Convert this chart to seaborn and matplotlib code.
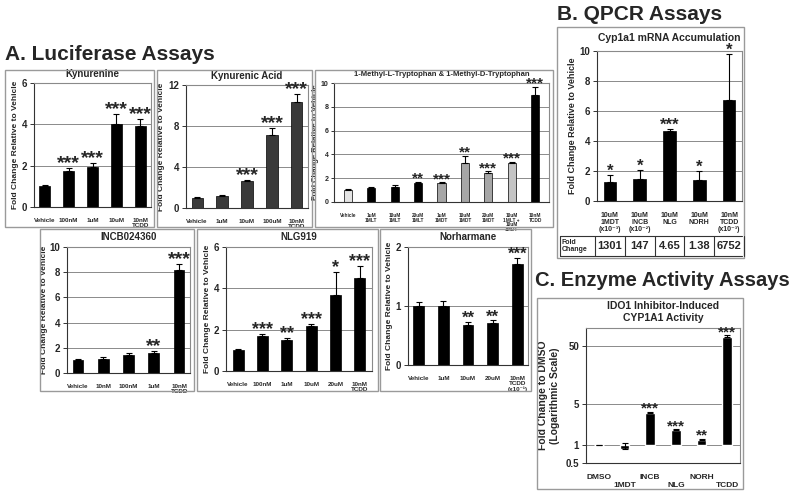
import matplotlib.pyplot as plt
import matplotlib.transforms as mtransforms
from matplotlib.patches import Rectangle
from matplotlib.ticker import FixedLocator, NullLocator, FixedFormatter
import seaborn as sns
import numpy as np

# Luciferase assays (panel A)
kyn_labels = ["Vehicle", "100nM", "1uM", "10uM", "10nM\nTCDD"]
kyn_vals = [1.0, 1.75, 1.95, 4.0, 3.92]
kyn_err = [0.06, 0.13, 0.17, 0.52, 0.36]
kyn_stars = ["", "***", "***", "***", "***"]

kyna_labels = ["Vehicle", "1uM", "10uM", "100uM", "10nM\nTCDD"]
kyna_vals = [1.0, 1.15, 2.65, 7.1, 10.3]
kyna_err = [0.06, 0.1, 0.12, 0.7, 0.8]
kyna_stars = ["", "", "***", "***", "***"]

mt_labels = ["Vehicle", "1uM\n1MLT", "10uM\n1MLT", "20uM\n1MLT", "1uM\n1MDT", "10uM\n1MDT",
             "20uM\n1MDT", "10uM\n1MLT +\n10uM\n1MDT", "10nM\nTCDD"]
mt_vals = [1.0, 1.15, 1.3, 1.6, 1.6, 3.3, 2.45, 3.25, 9.0]
mt_err = [0.08, 0.1, 0.12, 0.1, 0.05, 0.6, 0.15, 0.15, 0.7]
mt_stars = ["", "", "", "**", "***", "**", "***", "***", "***"]
mt_colors = ["#e4e4e4", "black", "black", "black", "#a6a6a6", "#a6a6a6", "#a6a6a6", "#c4c4c4", "black"]

incb_labels = ["Vehicle", "10nM", "100nM", "1uM", "10nM\nTCDD"]
incb_vals = [1.0, 1.1, 1.4, 1.6, 8.2]
incb_err = [0.08, 0.15, 0.15, 0.15, 0.45]
incb_stars = ["", "", "", "**", "***"]

nlg_labels = ["Vehicle", "100nM", "1uM", "10uM", "20uM", "10nM\nTCDD"]
nlg_vals = [1.0, 1.7, 1.5, 2.17, 3.67, 4.5]
nlg_err = [0.08, 0.08, 0.12, 0.12, 1.1, 0.58]
nlg_stars = ["", "***", "**", "***", "*", "***"]

norh_labels = ["Vehicle", "1uM", "10uM", "20uM", "10nM\nTCDD\n(x10⁻¹)"]
norh_vals = [1.0, 1.0, 0.68, 0.72, 1.72]
norh_err = [0.07, 0.08, 0.05, 0.04, 0.1]
norh_stars = ["", "", "**", "**", "***"]

# QPCR (panel B)
qpcr_labels = ["10uM\n1MDT\n(x10⁻³)", "10uM\nINCB\n(x10⁻²)", "10uM\nNLG", "10uM\nNORH", "10nM\nTCDD\n(x10⁻³)"]
qpcr_vals = [1.3, 1.5, 4.65, 1.4, 6.75]
qpcr_err = [0.45, 0.6, 0.15, 0.6, 3.05]
qpcr_stars = ["*", "*", "***", "*", "*"]
qpcr_fold = ["1301", "147", "4.65", "1.38", "6752"]

# Enzyme activity (panel C)
enz_labels = ["DMSO", "1MDT", "INCB", "NLG", "NORH", "TCDD"]
enz_vals = [1.0, 0.85, 3.6, 1.8, 1.25, 70]
enz_err = [0.02, 0.25, 0.15, 0.08, 0.05, 5]
enz_stars = ["", "", "***", "***", "**", "***"]

sns.set_theme(style="white")
plt.rcParams['font.family'] = ['Liberation Sans', 'DejaVu Sans']
plt.rcParams['font.weight'] = 'bold'

W, H = 800, 493
fig = plt.figure(figsize=(8, 4.93), dpi=100)


def px(x0, y0, x1, y1):
    return [x0 / W, 1 - y1 / H, (x1 - x0) / W, (y1 - y0) / H]


def box(x0, y0, x1, y1):
    fig.patches.append(Rectangle((x0 / W, 1 - y1 / H), (x1 - x0) / W, (y1 - y0) / H,
                                 transform=fig.transFigure, fill=False,
                                 edgecolor="#9a9a9a", linewidth=1.0))


def style_axes(ax, yticks, tick_size=7, tick_len=3):
    ax.set_yticks(yticks)
    ax.yaxis.grid(True, color="#8a8a8a", linewidth=0.7)
    ax.set_axisbelow(True)
    for side in ["top", "right"]:
        ax.spines[side].set_color("#8a8a8a")
        ax.spines[side].set_linewidth(0.8)
    for side in ["left", "bottom"]:
        ax.spines[side].set_color("#333333")
        ax.spines[side].set_linewidth(0.8)
    ax.tick_params(axis="y", left=True, length=tick_len, width=0.7, color="#333333",
                   labelsize=tick_size, pad=2)
    ax.tick_params(axis="x", bottom=False, pad=2)
    ax.set_xlabel("")


def bar_panel(ax_px, labels, vals, errs, stars, ylim, yticks, title, colors=None,
              width=0.45, star_size=13, xl_size=4.5, title_size=7, title_pad=4,
              ylabel="Fold Change Relative to Vehicle", yl_size=6, tick_size=7,
              tick_len=3, yl_pad=2, xl_spacing=1.0):
    ax = fig.add_axes(px(*ax_px))
    if colors is None:
        colors = ["black"] * len(labels)
    sns.barplot(x=labels, y=vals, hue=labels, palette=colors, legend=False,
                width=width, saturation=1, edgecolor="black", linewidth=0.5, ax=ax)
    ax.errorbar(range(len(vals)), vals, yerr=[np.zeros(len(errs)), errs], fmt="none",
                ecolor="black", elinewidth=0.8, capsize=2, capthick=0.8)
    for i, s in enumerate(stars):
        if s:
            ax.annotate(s, (i, vals[i] + errs[i]), xytext=(0, -3), textcoords="offset points",
                        ha="center", va="bottom", fontsize=star_size, fontweight="bold")
    ax.set_ylim(*ylim)
    style_axes(ax, yticks, tick_size, tick_len)
    ax.tick_params(axis="x", labelsize=xl_size)
    for t in ax.get_xticklabels():
        t.set_linespacing(xl_spacing)
    ax.set_title(title, fontsize=title_size, fontweight="bold", pad=title_pad)
    ax.set_ylabel(ylabel, fontsize=yl_size, fontweight="bold", labelpad=yl_pad)
    return ax


# panel frames
box(5, 70, 154, 227)
box(157, 70, 312, 227)
box(315, 70, 553, 227)
box(40, 229, 194, 391)
box(197, 229, 378, 391)
box(380, 229, 531, 391)
box(557, 27, 744, 258)
box(537, 298, 743, 489)

fig.text(5 / W, 1 - 55 / H, "A. Luciferase Assays", fontsize=15, fontweight="bold", va="center")
fig.text(557 / W, 1 - 14 / H, "B. QPCR Assays", fontsize=15, fontweight="bold", va="center")
fig.text(535 / W, 1 - 280 / H, "C. Enzyme Activity Assays", fontsize=14.5, fontweight="bold",
         va="center")

bar_panel((34, 83, 151, 207), kyn_labels, kyn_vals, kyn_err, kyn_stars, (0, 6), [0, 2, 4, 6],
          "Kynurenine", width=0.45, star_size=14)
bar_panel((186, 85, 308, 208), kyna_labels, kyna_vals, kyna_err, kyna_stars, (0, 12), [0, 4, 8, 12],
          "Kynurenic Acid", colors=["#3a3a3a"] * 5, width=0.45, star_size=14)
bar_panel((334, 83, 549, 202), mt_labels, mt_vals, mt_err, mt_stars, (0, 10), [0, 2, 4, 6, 8, 10],
          "1-Methyl-L-Tryptophan & 1-Methyl-D-Tryptophan", colors=mt_colors, width=0.35,
          star_size=11, xl_size=3.4, title_size=5.5, title_pad=5, yl_size=5.5, tick_size=5,
          tick_len=2, yl_pad=1, xl_spacing=0.9)
bar_panel((67, 247, 190, 373), incb_labels, incb_vals, incb_err, incb_stars, (0, 10),
          [0, 2, 4, 6, 8, 10], "INCB024360", width=0.42, star_size=14, title_pad=5, yl_pad=1)
bar_panel((226, 247, 372, 371), nlg_labels, nlg_vals, nlg_err, nlg_stars, (0, 6), [0, 2, 4, 6],
          "NLG919", width=0.45, star_size=13, title_pad=5)
bar_panel((408, 247, 528, 365), norh_labels, norh_vals, norh_err, norh_stars, (0, 2), [0, 1, 2],
          "Norharmane", width=0.42, star_size=12, title_pad=5)

# panel B
axb = bar_panel((597, 51, 742, 201), qpcr_labels, qpcr_vals, qpcr_err, qpcr_stars, (0, 10),
                [0, 2, 4, 6, 8, 10], "Cyp1a1 mRNA Accumulation", width=0.42, star_size=12,
                xl_size=5, title_size=7.5, title_pad=7, yl_size=6.5)
tr = mtransforms.blended_transform_factory(axb.transData, fig.transFigure)
y_top, y_bot = 1 - 236 / H, 1 - 256 / H
for xe in np.arange(-0.5, len(qpcr_fold), 1.0):
    fig.add_artist(plt.Line2D([xe, xe], [y_bot, y_top], transform=tr, color="#333333", lw=0.8))
for yy in [y_top, y_bot]:
    fig.add_artist(plt.Line2D([560 / W, 742 / W], [yy, yy], transform=fig.transFigure,
                              color="#333333", lw=0.8))
fig.add_artist(plt.Line2D([560 / W, 560 / W], [y_bot, y_top], transform=fig.transFigure,
                          color="#333333", lw=0.8))
fig.text(562 / W, (y_top + y_bot) / 2, "Fold\nChange", fontsize=5, fontweight="bold",
         va="center", ha="left", linespacing=1.1)
for i, v in enumerate(qpcr_fold):
    fig.text(i, (y_top + y_bot) / 2, v, transform=tr, fontsize=8, fontweight="bold",
             ha="center", va="center")

# panel C (log scale, bars start at 1 like the original)
axc = fig.add_axes(px(586, 328, 740, 463))
axc.set_yscale("log")
pos = np.arange(len(enz_labels))
axc.bar(pos, [v - 1 for v in enz_vals], bottom=1, width=0.38, color="black")
axc.errorbar(pos, enz_vals, yerr=[np.zeros(len(enz_err)), enz_err], fmt="none",
             ecolor="black", elinewidth=0.8, capsize=2, capthick=0.8)
for i, s in enumerate(enz_stars):
    if s:
        axc.annotate(s, (i, enz_vals[i] + enz_err[i]), xytext=(0, -3), textcoords="offset points",
                     ha="center", va="bottom", fontsize=11, fontweight="bold")
axc.set_ylim(0.5, 100)
axc.set_xlim(-0.5, len(enz_labels) - 0.5)
style_axes(axc, [0.5, 1, 5, 50])
axc.yaxis.set_major_locator(FixedLocator([0.5, 1, 5, 50]))
axc.yaxis.set_major_formatter(FixedFormatter(["0.5", "1", "5", "50"]))
axc.yaxis.set_minor_locator(NullLocator())
axc.set_xticks(pos)
axc.set_xticklabels([("\n" + l) if i % 2 else l for i, l in enumerate(enz_labels)],
                    fontsize=6, fontweight="bold")
axc.set_title("IDO1 Inhibitor-Induced\nCYP1A1 Activity", fontsize=7.5, fontweight="bold", pad=5)
axc.set_ylabel("Fold Change to DMSO\n(Logarithmic Scale)", fontsize=7.5, fontweight="bold",
               labelpad=4)

fig.savefig("out.png", dpi=100)
